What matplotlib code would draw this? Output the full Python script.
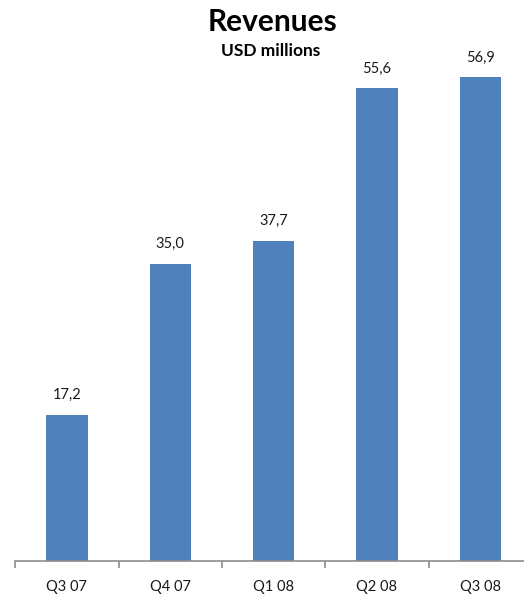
import matplotlib
matplotlib.use("Agg")
import matplotlib.pyplot as plt

categories = ["Q3 07", "Q4 07", "Q1 08", "Q2 08", "Q3 08"]
revenues = [17.2, 35.0, 37.7, 55.6, 56.9]
value_labels = ["17,2", "35,0", "37,7", "55,6", "56,9"]

plt.rcParams['font.family'] = ['Lato', 'DejaVu Sans']

W, H = 524, 596
fig = plt.figure(figsize=(W / 100, H / 100), dpi=100)
left_px, right_px = 15.3, 532.0
bottom_px, top_px = 561.0, 60.0
ax = fig.add_axes([left_px / W, (H - bottom_px) / H,
                   (right_px - left_px) / W, (bottom_px - top_px) / H])

x = list(range(len(categories)))
ax.bar(x, revenues, width=0.4, color="#4F81BD", zorder=2)
ax.set_xlim(-0.5, len(categories) - 0.5)
ax.set_ylim(0, (bottom_px - top_px) / 8.5)

for xi, v, lab in zip(x, revenues, value_labels):
    ax.annotate(lab, (xi, v), xytext=(0, 9), textcoords="offset points",
                ha="center", va="bottom", fontsize=10.5, color="#1a1a1a")

for s in ["top", "right", "left"]:
    ax.spines[s].set_visible(False)
ax.spines["bottom"].set_color("#8c8c8c")
ax.spines["bottom"].set_linewidth(1.2)
ax.set_yticks([])
ax.set_xticks([i - 0.5 for i in range(len(categories) + 1)], minor=False)
ax.set_xticklabels([])
ax.tick_params(axis="x", which="major", length=5, width=1.2, color="#8c8c8c", direction="out")
ax.set_xticks(x, minor=True)
ax.set_xticklabels(categories, minor=True, fontsize=10.5, color="#1a1a1a")
ax.tick_params(axis="x", which="minor", length=0, pad=14)

fig.text(273 / W, 1 - 22 / H, "Revenues", ha="center", va="center",
         fontsize=21.5, fontweight="bold", color="#000000")
fig.text(271 / W, 1 - 51 / H, "USD millions", ha="center", va="center",
         fontsize=12.5, fontweight="bold", color="#000000")

fig.savefig("out.png", dpi=100)
